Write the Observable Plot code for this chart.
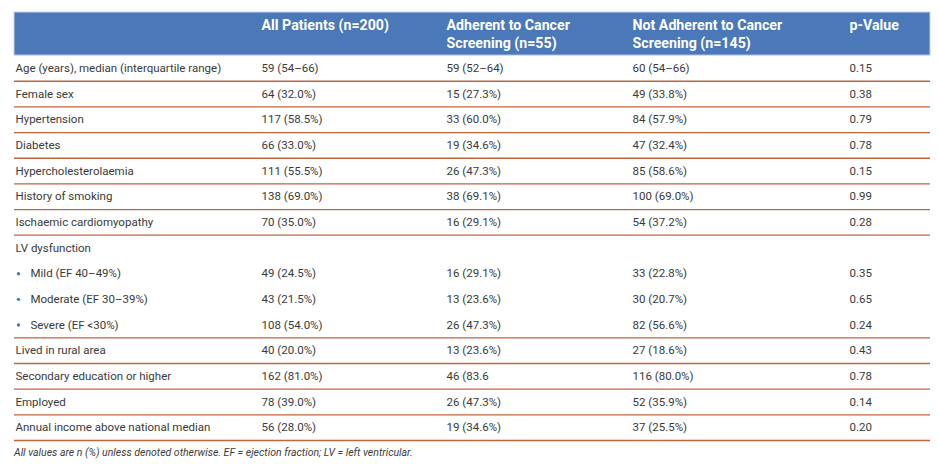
<!DOCTYPE html>
<html>
<head>
<meta charset="utf-8">
<script src="https://cdn.jsdelivr.net/npm/d3@7"></script>
<script src="https://cdn.jsdelivr.net/npm/@observablehq/plot@0.6"></script>
<style>
  body { margin: 0; background: #fff; }
  #chart svg { display: block; }
  .caption { font-family: Roboto, "Noto Sans", sans-serif; font-style: italic; font-size: 10.5px; color: #3c3c3c; margin-left: 14px; line-height: 18px; height: 18px; }
</style>
</head>
<body>
<div id="chart"></div>
<div class="caption">All values are n (%) unless denoted otherwise. EF = ejection fraction; LV = left ventricular.</div>
<script>
// ---- data ----
const headers = ["", "All Patients (n=200)", "Adherent to Cancer\nScreening (n=55)", "Not Adherent to Cancer\nScreening (n=145)", "p-Value"];
const labels = [
  "Age (years), median (interquartile range)", "Female sex", "Hypertension", "Diabetes",
  "Hypercholesterolaemia", "History of smoking", "Ischaemic cardiomyopathy", "LV dysfunction",
  "Mild (EF 40–49%)", "Moderate (EF 30–39%)", "Severe (EF <30%)", "Lived in rural area",
  "Secondary education or higher", "Employed", "Annual income above national median"
];
const bulleted = [false, false, false, false, false, false, false, false, true, true, true, false, false, false, false];
const allPatients = ["59 (54–66)", "64 (32.0%)", "117 (58.5%)", "66 (33.0%)", "111 (55.5%)", "138 (69.0%)", "70 (35.0%)", "", "49 (24.5%)", "43 (21.5%)", "108 (54.0%)", "40 (20.0%)", "162 (81.0%)", "78 (39.0%)", "56 (28.0%)"];
const adherent = ["59 (52–64)", "15 (27.3%)", "33 (60.0%)", "19 (34.6%)", "26 (47.3%)", "38 (69.1%)", "16 (29.1%)", "", "16 (29.1%)", "13 (23.6%)", "26 (47.3%)", "13 (23.6%)", "46 (83.6", "26 (47.3%)", "19 (34.6%)"];
const notAdherent = ["60 (54–66)", "49 (33.8%)", "84 (57.9%)", "47 (32.4%)", "85 (58.6%)", "100 (69.0%)", "54 (37.2%)", "", "33 (22.8%)", "30 (20.7%)", "82 (56.6%)", "27 (18.6%)", "116 (80.0%)", "52 (35.9%)", "37 (25.5%)"];
const pValues = ["0.15", "0.38", "0.79", "0.78", "0.15", "0.99", "0.28", "", "0.35", "0.65", "0.24", "0.43", "0.78", "0.14", "0.20"];

// ---- layout (styles / positions) ----
const L = { left: 14, right: 930, cols: [15, 261, 446, 632, 849], bulletX: 18, bulletIndent: 15, headerRows: 1.68 };
const blue = "#4a78b8", rule = "#c0643e", ink = "#3a3a3a";
const font = "Roboto, 'Noto Sans', sans-serif";

const rows = labels.map((label, i) => ({
  i, label, bullet: bulleted[i],
  cells: [label, allPatients[i], adherent[i], notAdherent[i], pValues[i]]
}));
const ruled = rows.filter((d, i) => i === rows.length - 1 || !bulleted[i + 1]);
const headerData = headers.map((h, c) => ({ c, h }));

const bodyMarks = [0, 1, 2, 3, 4].map(c => Plot.text(rows, {
  x: d => L.cols[c] + (c === 0 && d.bullet ? L.bulletIndent : 0),
  y: d => d.i + 0.5,
  text: d => d.cells[c],
  textAnchor: "start",
  fill: ink,
  fontSize: 11.5
}));

const chart = Plot.plot({
  width: 939,
  height: 444,
  margin: 0,
  style: { fontFamily: font, background: "#fff" },
  x: { type: "linear", domain: [0, 939], range: [0, 939], axis: null },
  y: { type: "linear", domain: [-L.headerRows, labels.length], range: [12, 440], axis: null },
  marks: [
    Plot.rect([0], { x1: L.left, x2: L.right, y1: -L.headerRows, y2: 0, fill: blue, stroke: "#c6d4e8", strokeWidth: 1 }),
    Plot.text(headerData, {
      x: d => L.cols[d.c], y: -L.headerRows, dy: 5,
      text: d => d.h, textAnchor: "start", lineAnchor: "top",
      fill: "#fff", fontWeight: "bold", fontSize: 14.2, lineHeight: 1.27
    }),
    ...bodyMarks,
    Plot.dot(rows.filter(d => d.bullet), { x: () => L.bulletX, y: d => d.i + 0.5, r: 1.7, fill: blue, stroke: null }),
    Plot.ruleY(ruled, { y: d => d.i + 1, x1: L.left, x2: L.right, stroke: rule, strokeWidth: 1.3 })
  ]
});
document.getElementById("chart").append(chart);
</script>
</body>
</html>
